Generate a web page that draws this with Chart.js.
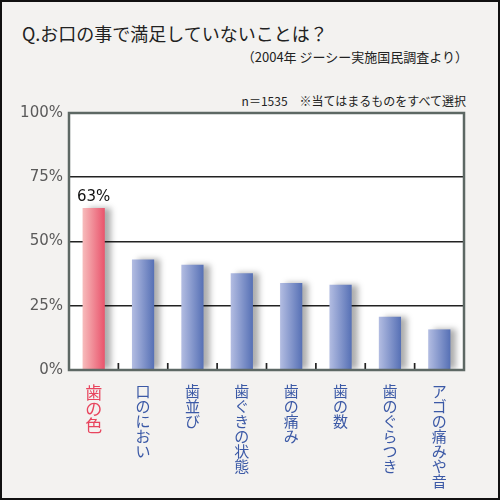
<!DOCTYPE html>
<html lang="ja">
<head>
<meta charset="utf-8">
<script src="https://cdn.jsdelivr.net/npm/chart.js@4"></script>
<style>
  body { margin: 0; }
  #frame {
    position: relative; width: 500px; height: 500px; box-sizing: border-box;
    border: 2px solid #111; background: #f3f2f0; overflow: hidden;
    font-family: "Noto Sans CJK JP", sans-serif; color: #222;
  }
  #frame canvas { position: absolute; left: -2px; top: -2px; }
  .txt { position: absolute; white-space: nowrap; }
  #title { left: 20px; top: 22px; font-size: 18px; line-height: 18px; }
  #sub { right: 30px; top: 48px; font-size: 13px; line-height: 13px; }
  #note { right: 32px; top: 93px; font-size: 12px; line-height: 12px; }
</style>
</head>
<body>
<div id="frame">
  <div class="txt" id="title">Q.お口の事で満足していないことは？</div>
  <div class="txt" id="sub">（2004年 ジーシー実施国民調査より）</div>
  <div class="txt" id="note">n＝1535　※当てはまるものをすべて選択</div>
  <div style="position:absolute;left:-2px;top:-2px;width:500px;height:500px">
    <canvas id="myChart"></canvas>
  </div>
</div>
<script>
// データ
const categories = ["歯の色", "口のにおい", "歯並び", "歯ぐきの状態", "歯の痛み", "歯の数", "歯のぐらつき", "アゴの痛みや音"];
const values = [63, 43, 41, 37.6, 33.9, 33.2, 20.7, 15.8];
const yTicks = [0, 25, 50, 75, 100];

const BAR_PCT = 0.45;

// 縦書きラベル（1文字ずつ改行）
const verticalLabels = categories.map(c => Array.from(c));

function barGradient(context) {
  const chart = context.chart;
  const xs = chart.scales.x;
  const first = context.dataIndex === 0;
  if (!xs || !chart.chartArea) return first ? "#ee6b7e" : "#7187c4";
  const band = xs.width / categories.length;
  const cx = xs.getPixelForValue(context.dataIndex);
  const w = band * BAR_PCT;
  const g = chart.ctx.createLinearGradient(cx - w / 2, 0, cx + w / 2, 0);
  if (first) {
    g.addColorStop(0, "#f7bcbc");
    g.addColorStop(1, "#e9536b");
  } else {
    g.addColorStop(0, "#b3bde2");
    g.addColorStop(1, "#5670b5");
  }
  return g;
}

const plotDecor = {
  id: "plotDecor",
  beforeDraw(chart) {
    const a = chart.chartArea;
    const ctx = chart.ctx;
    ctx.save();
    ctx.fillStyle = "#ffffff";
    ctx.fillRect(a.left, a.top, a.right - a.left, a.bottom - a.top);
    ctx.restore();
  },
  beforeDatasetsDraw(chart) {
    const ctx = chart.ctx;
    ctx.save();
    ctx.shadowColor = "rgba(0,0,0,0.32)";
    ctx.shadowBlur = 6;
    ctx.shadowOffsetX = 6;
    ctx.shadowOffsetY = 0;
  },
  afterDatasetsDraw(chart) {
    const ctx = chart.ctx;
    ctx.restore();
    const a = chart.chartArea;
    const xs = chart.scales.x;

    // 区切りの目盛り
    ctx.save();
    ctx.strokeStyle = "#222";
    ctx.lineWidth = 1.7;
    for (let i = 0; i < categories.length - 1; i++) {
      const x = (xs.getPixelForValue(i) + xs.getPixelForValue(i + 1)) / 2;
      ctx.beginPath();
      ctx.moveTo(x, a.bottom);
      ctx.lineTo(x, a.bottom - 7);
      ctx.stroke();
    }
    // 枠線
    ctx.strokeStyle = "#5d6864";
    ctx.lineWidth = 2.5;
    ctx.strokeRect(a.left, a.top, a.right - a.left, a.bottom - a.top);

    // 最大値ラベル
    const el = chart.getDatasetMeta(0).data[0];
    ctx.fillStyle = "#111";
    ctx.font = '15px "DejaVu Sans"';
    ctx.textAlign = "center";
    ctx.textBaseline = "bottom";
    ctx.fillText(Math.round(values[0]) + "%", el.x, el.y - 3);
    ctx.restore();
  }
};

const ctx = document.getElementById("myChart").getContext("2d");
const myChart = new Chart(ctx, {
  type: "bar",
  data: {
    labels: verticalLabels,
    datasets: [{
      data: values,
      backgroundColor: barGradient,
      borderWidth: 0,
      categoryPercentage: 1,
      barPercentage: BAR_PCT
    }]
  },
  options: {
    responsive: true,
    maintainAspectRatio: false,
    animation: false,
    layout: { padding: { left: 0, right: 34, top: 115, bottom: 0 } },
    plugins: {
      legend: { display: false },
      tooltip: { enabled: false }
    },
    scales: {
      x: {
        border: { display: false },
        grid: { display: false },
        afterFit: s => { s.height = 128; },
        ticks: {
          autoSkip: false,
          maxRotation: 0,
          minRotation: 0,
          padding: 6,
          color: c => c.index === 0 ? "#e8455e" : "#3b59a6",
          font: c => c.index === 0
            ? { family: '"Noto Sans CJK JP"', size: 17, lineHeight: 0.98 }
            : { family: '"Noto Sans CJK JP"', size: 15, lineHeight: 1.0 }
        }
      },
      y: {
        min: 0,
        max: 100,
        border: { display: false },
        afterFit: s => { s.width = 71; },
        afterBuildTicks: s => { s.ticks = yTicks.map(v => ({ value: v })); },
        grid: {
          drawTicks: false,
          lineWidth: 1.6,
          color: c => (c.tick.value === 0 || c.tick.value === 100) ? "rgba(0,0,0,0)" : "#222"
        },
        ticks: {
          padding: 6,
          color: "#5a5a5a",
          font: { family: '"DejaVu Sans"', size: 15 },
          callback: v => v + "%"
        }
      }
    }
  },
  plugins: [plotDecor]
});
</script>
</body>
</html>
